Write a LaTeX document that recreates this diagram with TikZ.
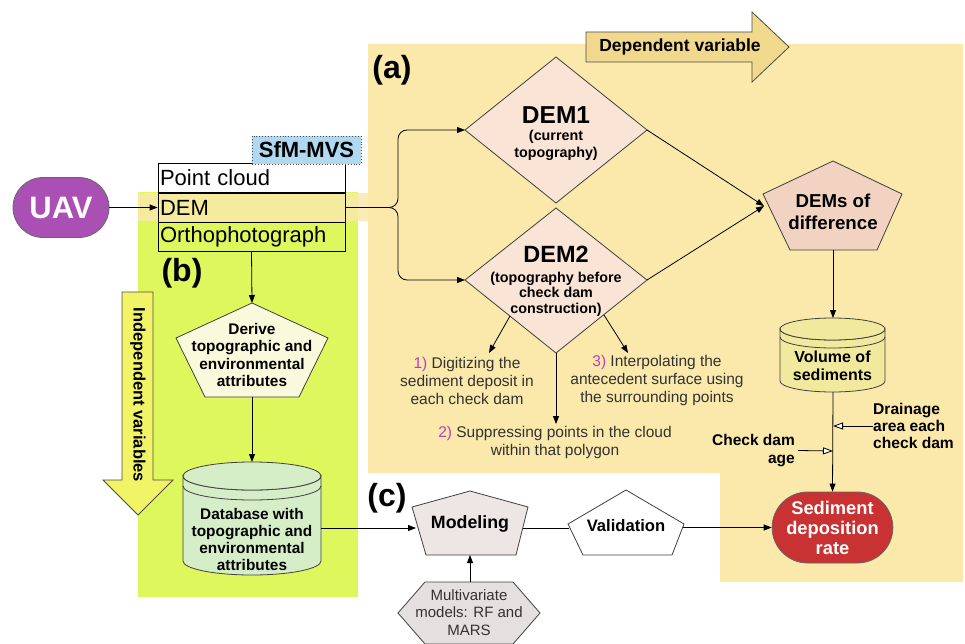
\documentclass[tikz,border=0pt]{standalone}
\usepackage{fontspec}
\setmainfont{Liberation Sans}
\usetikzlibrary{arrows.meta,shapes.geometric,shapes.misc}
\definecolor{bgyel}{RGB}{250,233,170}
\definecolor{bggreen}{RGB}{222,247,92}
\definecolor{uavpurple}{RGB}{170,80,181}
\definecolor{diamfill}{RGB}{249,228,214}
\definecolor{pentfill}{RGB}{242,211,194}
\definecolor{volfill}{RGB}{241,234,158}
\definecolor{dbfill}{RGB}{214,238,200}
\definecolor{derivefill}{RGB}{249,249,220}
\definecolor{modfill}{RGB}{238,229,229}
\definecolor{multifill}{RGB}{229,224,224}
\definecolor{redrate}{RGB}{200,50,50}
\definecolor{sfmblue}{RGB}{176,216,240}
\definecolor{arrowgold}{RGB}{240,216,140}
\definecolor{arrowyel}{RGB}{242,244,104}
\definecolor{numpurple}{RGB}{190,60,190}
\definecolor{txtgrey}{RGB}{50,50,50}
\begin{document}
\begin{tikzpicture}[x=1pt,y=-1pt,
  arr/.style={-{Triangle[length=8pt,width=6pt]}, line width=0.8pt, black},
  openarr/.style={-{Triangle[length=10pt,width=7pt,fill=white]}, line width=0.8pt, black},
  shp/.style={draw=black!75, line width=0.8pt},
  fs/.style args={#1/#2}{font=\fontsize{#1}{#2}\selectfont},
  bfs/.style args={#1/#2}{font=\fontsize{#1}{#2}\selectfont\bfseries},
  lbl/.style={bfs=32/34, inner sep=0pt},
  stackrow/.style={draw=black, line width=0.8pt, minimum width=187pt, minimum height=29pt, text width=183pt, align=left, inner sep=2pt, fs=22/24},
  item/.style={fs=15.5/18, align=center, text=txtgrey, inner sep=0pt},
  ]
\useasboundingbox (0,0) rectangle (965,644);
% backgrounds
\fill[bgyel] (368,44) -- (963,44) -- (963,582) -- (720,582) -- (720,473) -- (368,473) -- cycle;
\fill[bggreen] (138,192) rectangle (358,597);
\fill[bgyel, opacity=0.85] (138,193) rectangle (368,221);
% big arrows
\filldraw[draw=black!70, line width=0.8pt, fill=arrowgold] (586,32) -- (752,32) -- (752,12) -- (789,47) -- (752,82) -- (752,62) -- (586,62) -- cycle;
\node[bfs=17.5/19] (depvar) at (680,47) {Dependent variable};
\filldraw[draw=black!70, line width=0.8pt, fill=arrowyel] (122,292) -- (153,292) -- (153,480) -- (173,480) -- (138,515) -- (103,480) -- (122,480) -- cycle;
\node[bfs=16.5/19, rotate=-90] (indvar) at (138,395) {Independent variables};
% labels
\node[lbl] (la) at (392,70) {(a)};
\node[lbl] (lb) at (182,273) {(b)};
\node[lbl] (lc) at (387,498) {(c)};
% UAV and stack
\node[rounded rectangle, fill=uavpurple, draw=black!60, line width=0.8pt, minimum width=96pt, minimum height=60pt, inner sep=0pt, text=white, bfs=31/32] (uav) at (61,207.5) {UAV};
\node[stackrow] (pc) at (251.5,178) {Point cloud};
\node[stackrow] (dem) at (251.5,207.5) {DEM};
\node[stackrow] (ortho) at (251.5,236.5) {Orthophotograph};
\node[draw=black!70, dotted, line width=0.9pt, fill=sfmblue, minimum width=109pt, minimum height=28pt, inner sep=0pt, bfs=22/24] (sfm) at (306.5,150) {SfM-MVS};
\draw[arr] (uav.east) -- (dem.west);
% diamonds
\coordinate (d1n) at (556,57); \coordinate (d1w) at (465,130); \coordinate (d1e) at (647,130); \coordinate (d1s) at (556,203);
\coordinate (d2n) at (556,208); \coordinate (d2w) at (465,280); \coordinate (d2e) at (647,280); \coordinate (d2s) at (556,353);
\filldraw[shp, fill=diamfill] (d1n) -- (d1e) -- (d1s) -- (d1w) -- cycle;
\filldraw[shp, fill=diamfill] (d2n) -- (d2e) -- (d2s) -- (d2w) -- cycle;
\node[bfs=24.5/26] (dem1t) at (556,115) {DEM1};
\node[bfs=14.3/17, align=center] (dem1s) at (556,145.5) {(current\\topography)};
\node[bfs=23.5/26] (dem2t) at (556,254) {DEM2};
\node[bfs=14.3/15.5, align=center] (dem2s) at (556,294) {(topography before\\check dam\\construction)};
\coordinate (split) at (398,207.5);
\draw[arr, rounded corners=9pt] (dem.east) -- (split) |- (d1w);
\draw[arr, rounded corners=9pt] (dem.east) -- (split) |- (d2w);
% DEMs of difference
\coordinate (pn) at (833,161); \coordinate (pul) at (763,194); \coordinate (pur) at (902,194); \coordinate (pll) at (790,250); \coordinate (plr) at (877,250);
\filldraw[shp, fill=pentfill] (pn) -- (pur) -- (plr) -- (pll) -- (pul) -- cycle;
\node[bfs=18.7/21.5, align=center] (dod) at (833,212) {DEMs of\\difference};
\coordinate (dodin) at (764,206);
\draw[arr] (d1e) -- (dodin);
\draw[arr] (d2e) -- (dodin);
% items from DEM2
\coordinate (a1s) at (510,316); \coordinate (a1e) at (489,353);
\coordinate (a3s) at (604,315); \coordinate (a3e) at (628,353);
\coordinate (a2e) at (556,424);
\draw[arr] (a1s) -- (a1e);
\draw[arr] (a3s) -- (a3e);
\draw[arr] (d2s) -- (a2e);
\node[item] (it1) at (467,381) {\textcolor{numpurple}{1)} Digitizing the\\sediment deposit in\\each check dam};
\node[item] (it3) at (657,380) {\textcolor{numpurple}{3)} Interpolating the\\antecedent surface using\\the surrounding points};
\node[item] (it2) at (555,442.5) {\textcolor{numpurple}{2)} Suppressing points in the cloud\\within that polygon};
% Volume cylinder
\filldraw[shp, fill=volfill] (780,329) -- (780,381) arc[start angle=180, end angle=0, x radius=52.5, y radius=11] -- (885,329) arc[start angle=0, end angle=180, x radius=52.5, y radius=11] -- cycle;
\filldraw[shp, fill=volfill] (832.5,329) ellipse[x radius=52.5, y radius=11];
\draw[shp] (780,337) arc[start angle=180, end angle=0, x radius=52.5, y radius=11];
\node[bfs=16/18, align=center] (vol) at (832.5,366) {Volume of\\sediments};
\coordinate (voltop) at (833,318); \coordinate (volbot) at (833,392);
\draw[arr] (833,250) -- (voltop);
% Sediment deposition rate
\node[rounded rectangle, fill=redrate, draw=black!60, line width=0.8pt, minimum width=119pt, minimum height=71pt, inner sep=2pt, text=white, bfs=18.3/20, align=center] (sed) at (832.5,527.5) {Sediment\\deposition\\rate};
\draw[arr] (volbot) -- (sed.north);
\node[bfs=15.5/17.5, align=right, anchor=east, inner sep=0pt] (cda) at (795,450.5) {Check dam\\age};
\node[bfs=15.6/17, align=left, anchor=west, inner sep=0pt] (dra) at (873,426) {Drainage\\area each\\check dam};
\coordinate (cdat) at (833,451); \coordinate (drat) at (833,426);
\draw[openarr] (cda.east) ++(3,0) -- (cdat);
\draw[openarr] (dra.west) -- (drat);
% Derive pentagon
\coordinate (dn) at (252,303); \coordinate (dul) at (176,338); \coordinate (dur) at (328,338); \coordinate (dll) at (205,397); \coordinate (dlr) at (299,397);
\filldraw[shp, fill=derivefill] (dn) -- (dur) -- (dlr) -- (dll) -- (dul) -- cycle;
\node[bfs=15.4/17.5, align=center] (der) at (252,355) {Derive\\topographic and\\environmental\\attributes};
\draw[arr] (ortho.south) -- (dn);
% Database cylinder
\filldraw[shp, fill=dbfill] (183,476) -- (183,561) arc[start angle=180, end angle=0, x radius=69, y radius=14] -- (321,476) arc[start angle=0, end angle=180, x radius=69, y radius=14] -- cycle;
\filldraw[shp, fill=dbfill] (252,476) ellipse[x radius=69, y radius=14];
\draw[shp] (183,486) arc[start angle=180, end angle=0, x radius=69, y radius=14];
\node[bfs=15.4/17, align=center] (db) at (252,539) {Database with\\topographic and\\environmental\\attributes};
\coordinate (dbtop) at (252,462); \coordinate (dbright) at (321,528);
\draw[arr] (252,397) -- (dbtop);
% Modeling
\coordinate (mn) at (470,491); \coordinate (mul) at (412,507); \coordinate (mur) at (528,507); \coordinate (mll) at (426,555); \coordinate (mlr) at (516,555);
\filldraw[shp, fill=modfill] (mn) -- (mur) -- (mlr) -- (mll) -- (mul) -- cycle;
\node[bfs=17.8/18] (mod) at (470,524) {Modeling};
\coordinate (modin) at (416,528); \coordinate (modout) at (523,528); \coordinate (modbot) at (470,555);
\draw[arr] (dbright) -- (modin);
% Validation
\coordinate (vn) at (626,490); \coordinate (vul) at (568,524); \coordinate (vur) at (684,524); \coordinate (vll) at (583,555); \coordinate (vlr) at (672,555);
\filldraw[shp, fill=white] (vn) -- (vur) -- (vlr) -- (vll) -- (vul) -- cycle;
\node[bfs=16.6/18] (val) at (626,526) {Validation};
\coordinate (valin) at (569,528); \coordinate (valout) at (683,527.5);
\draw[line width=0.8pt] (modout) -- (valin);
\draw[arr] (valout) -- (sed.west);
% Multivariate hexagon
\filldraw[shp, fill=multifill] (398,613) -- (425,582) -- (513,582) -- (540,613) -- (513,644) -- (425,644) -- cycle;
\node[fs=15/17.5, align=center, text=txtgrey] (mult) at (469,612.5) {Multivariate\\models: RF and\\MARS};
\coordinate (multtop) at (470,582);
\draw[arr] (multtop) -- (modbot);
\end{tikzpicture}
\end{document}
